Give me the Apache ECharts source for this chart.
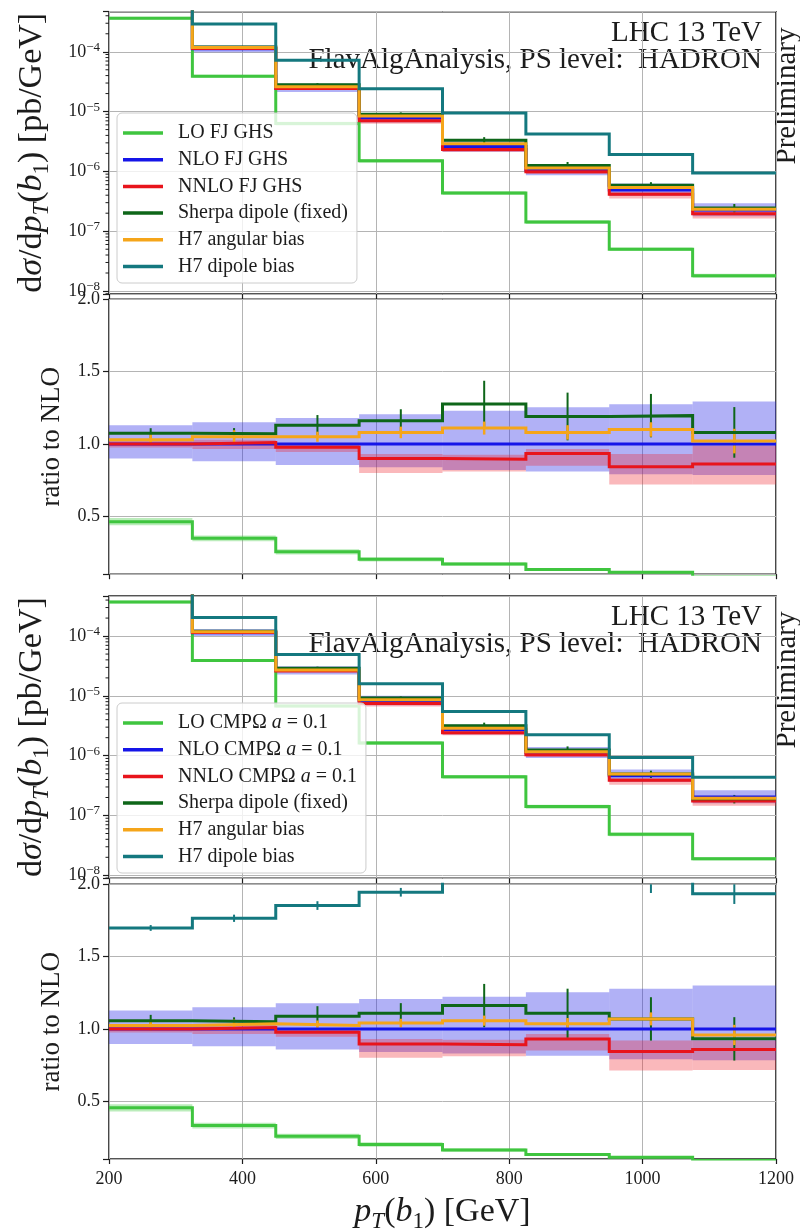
<!DOCTYPE html>
<html>
<head>
<meta charset="utf-8">
<script src="https://cdn.jsdelivr.net/npm/echarts@6/dist/echarts.min.js"></script>
<style>
  html, body { margin: 0; padding: 0; background: #ffffff; }
  #chart { width: 800px; height: 1229px; }
</style>
</head>
<body>
<div id="chart"></div>
<script>
// ---- binning ---------------------------------------------------------------
const binEdges   = [200, 325, 450, 575, 700, 825, 950, 1075, 1200];
const binCentres = [262.5, 387.5, 512.5, 637.5, 762.5, 887.5, 1012.5, 1137.5];
const xTicks     = [200, 400, 600, 800, 1000, 1200];

// ---- FJ GHS: differential cross sections [pb/GeV] --------------------------
const loFJ     = [3.65e-4, 3.9e-5, 6.3e-6, 1.5e-6, 4.35e-7, 1.42e-7, 5.0e-8, 1.8e-8];
const nloFJ    = [7.8e-4, 1.12e-4, 2.49e-5, 7.8e-6, 2.6e-6, 1.06e-6, 4.9e-7, 2.27e-7];
const nnloFJ   = [7.8e-4, 1.13e-4, 2.43e-5, 7.0e-6, 2.32e-6, 9.9e-7, 4.13e-7, 1.96e-7];
const sherpaFJ = [8.4e-4, 1.2e-4, 2.81e-5, 9.05e-6, 3.32e-6, 1.26e-6, 5.86e-7, 2.45e-7];
const h7angFJ  = [8.0e-4, 1.18e-4, 2.61e-5, 8.4e-6, 2.89e-6, 1.14e-6, 5.4e-7, 2.32e-7];
const h7dipFJ  = [2.0e-3, 2.9e-4, 7.2e-5, 2.42e-5, 9.5e-6, 4.2e-6, 1.92e-6, 9.4e-7];

// ---- FJ GHS: ratios to NLO --------------------------------------------------
const loFJr     = [0.463, 0.348, 0.255, 0.203, 0.17, 0.133, 0.113, 0.08];
const nloFJr    = [1, 1, 1, 1, 1, 1, 1, 1];
const nnloFJr   = [1.0, 1.01, 0.977, 0.90, 0.894, 0.935, 0.843, 0.862];
const sherpaFJr = [1.074, 1.07, 1.13, 1.16, 1.277, 1.19, 1.196, 1.08];
const h7angFJr  = [1.03, 1.05, 1.05, 1.08, 1.11, 1.08, 1.10, 1.02];
const h7dipFJr  = [2.56, 2.59, 2.89, 3.1, 3.65, 3.96, 3.92, 4.14];
const sherpaErrFJ = [0.035, 0.04, 0.07, 0.08, 0.16, 0.165, 0.15, 0.175];
const h7angErrFJ  = [0.04, 0.045, 0.035, 0.04, 0.045, 0.05, 0.05, 0.085];
const h7dipErrFJ  = [0.03, 0.04, 0.05, 0.06, 0.08, 0.1, 0.12, 0.15];
const loBandFJ     = [0.025, 0.02, 0.018, 0.015, 0.012, 0.01, 0.008, 0.006];
const nloBandLoFJ  = [0.90, 0.88, 0.855, 0.84, 0.82, 0.81, 0.79, 0.785];
const nloBandHiFJ  = [1.13, 1.15, 1.18, 1.205, 1.23, 1.254, 1.275, 1.293];
const nnloBandLoFJ = [0.975, 0.965, 0.945, 0.80, 0.81, 0.85, 0.72, 0.72];
const nnloBandHiFJ = [1.02, 1.03, 0.995, 0.93, 0.925, 0.965, 0.93, 0.99];

// ---- CMPOmega a = 0.1: differential cross sections [pb/GeV] -----------------
const loCMP     = [3.72e-4, 3.91e-5, 6.8e-6, 1.63e-6, 4.45e-7, 1.41e-7, 4.85e-8, 1.9e-8];
const nloCMP    = [8.2e-4, 1.14e-4, 2.66e-5, 8.3e-6, 2.72e-6, 1.12e-6, 4.6e-7, 2.04e-7];
const nnloCMP   = [8.2e-4, 1.15e-4, 2.6e-5, 7.44e-6, 2.42e-6, 1.04e-6, 3.88e-7, 1.75e-7];
const sherpaCMP = [8.67e-4, 1.2e-4, 2.89e-5, 9.2e-6, 3.16e-6, 1.24e-6, 4.92e-7, 1.9e-7];
const h7angCMP  = [8.4e-4, 1.18e-4, 2.72e-5, 8.63e-6, 2.87e-6, 1.16e-6, 4.92e-7, 1.95e-7];
const h7dipCMP  = [1.39e-3, 2.04e-4, 4.93e-5, 1.59e-5, 5.5e-6, 2.24e-6, 9.3e-7, 4.38e-7];

// ---- CMPOmega a = 0.1: ratios to NLO -----------------------------------------
const loCMPr     = [0.454, 0.331, 0.257, 0.20, 0.163, 0.131, 0.112, 0.09];
const nloCMPr    = [1, 1, 1, 1, 1, 1, 1, 1];
const nnloCMPr   = [1.0, 1.01, 0.977, 0.896, 0.891, 0.93, 0.843, 0.857];
const sherpaCMPr = [1.057, 1.05, 1.087, 1.108, 1.161, 1.108, 1.069, 0.931];
const h7angCMPr  = [1.023, 1.035, 1.023, 1.04, 1.057, 1.035, 1.069, 0.958];
const h7dipCMPr  = [1.698, 1.765, 1.853, 1.945, 2.06, 2.05, 2.04, 1.934];
const sherpaErrCMP = [0.04, 0.03, 0.07, 0.07, 0.15, 0.17, 0.15, 0.15];
const h7angErrCMP  = [0.035, 0.03, 0.035, 0.03, 0.035, 0.04, 0.045, 0.07];
const h7dipErrCMP  = [0.02, 0.025, 0.03, 0.03, 0.04, 0.04, 0.1, 0.07];
const loBandCMP     = [0.025, 0.02, 0.018, 0.015, 0.012, 0.01, 0.008, 0.006];
const nloBandLoCMP  = [0.896, 0.88, 0.857, 0.84, 0.83, 0.815, 0.79, 0.783];
const nloBandHiCMP  = [1.127, 1.15, 1.177, 1.207, 1.223, 1.253, 1.277, 1.30];
const nnloBandLoCMP = [0.975, 0.965, 0.945, 0.80, 0.81, 0.85, 0.712, 0.715];
const nnloBandHiCMP = [1.02, 1.03, 0.995, 0.93, 0.925, 0.965, 0.92, 0.92];

// ---- legend labels ------------------------------------------------------------
const namesFJ  = ['LO FJ GHS', 'NLO FJ GHS', 'NNLO FJ GHS', 'Sherpa dipole (fixed)', 'H7 angular bias', 'H7 dipole bias'];
const namesCMP = ['LO CMPΩ a = 0.1', 'NLO CMPΩ a = 0.1', 'NNLO CMPΩ a = 0.1', 'Sherpa dipole (fixed)', 'H7 angular bias', 'H7 dipole bias'];

// ---- styling -----------------------------------------------------------------
const FONT = 'Liberation Serif';
const INK = '#1c1c1c';
const C = {
  lo: '#3fc53f', nlo: '#1515e8', nnlo: '#e8141c',
  sherpa: '#0e6619', h7ang: '#f5a51a', h7dip: '#14787f'
};
const BAND = {
  lo: 'rgba(60,200,60,0.35)',
  nlo: 'rgba(40,40,230,0.36)',
  nnlo: 'rgba(240,40,50,0.33)'
};
const LOG_MIN = Math.pow(10, -8.05);
const LOG_MAX = Math.pow(10, -3.33);

const GRIDS = [
  { left: 109, width: 667, top: 11.7, height: 282.3 },
  { left: 109, width: 667, top: 299.3, height: 274.9 },
  { left: 109, width: 667, top: 596, height: 282.3 },
  { left: 109, width: 667, top: 884.3, height: 274.7 }
];

// histogram outline: one flat segment per bin, joined by vertical risers
function steps(vals) {
  const pts = [];
  vals.forEach((v, i) => { pts.push([binEdges[i], v]); pts.push([binEdges[i + 1], v]); });
  return pts;
}

function lineSeries(name, vals, color, ax) {
  return {
    type: 'line', name, data: steps(vals), xAxisIndex: ax, yAxisIndex: ax,
    symbol: 'none', showSymbol: false, color, clip: true, silent: true, animation: false,
    lineStyle: { color, width: 3, join: 'miter', cap: 'butt' }
  };
}

function bandSeries(lo, hi, fill, ax) {
  return {
    type: 'custom', xAxisIndex: ax, yAxisIndex: ax, silent: true, animation: false,
    data: lo.map((l, i) => [binEdges[i], binEdges[i + 1], l, hi[i]]),
    encode: { x: [0, 1], y: [2, 3] },
    renderItem(params, api) {
      const p0 = api.coord([api.value(0), api.value(3)]);
      const p1 = api.coord([api.value(1), api.value(2)]);
      const cs = params.coordSys;
      const shape = echarts.graphic.clipRectByRect(
        { x: p0[0], y: p0[1], width: p1[0] - p0[0], height: p1[1] - p0[1] },
        { x: cs.x, y: cs.y, width: cs.width, height: cs.height });
      return shape ? { type: 'rect', shape, style: { fill } } : null;
    }
  };
}

function errSeries(vals, errLo, errHi, color, ax, width) {
  return {
    type: 'custom', xAxisIndex: ax, yAxisIndex: ax, silent: true, animation: false, clip: false,
    data: vals.map((v, i) => [binCentres[i], errLo[i], errHi[i]]),
    encode: { x: 0, y: [1, 2] },
    renderItem(params, api) {
      const cs = params.coordSys;
      const a = api.coord([api.value(0), api.value(1)]);
      const b = api.coord([api.value(0), api.value(2)]);
      const top = cs.y, bot = cs.y + cs.height;
      let y1 = Math.min(a[1], b[1]), y2 = Math.max(a[1], b[1]);
      if (y2 < top || y1 > bot) return null;
      y1 = Math.max(y1, top); y2 = Math.min(y2, bot);
      return { type: 'line', shape: { x1: a[0], y1, x2: a[0], y2 },
               style: { stroke: color, lineWidth: width } };
    }
  };
}

// minor ticks of the logarithmic axes (2..9 x 10^n), drawn outside the frame
const minorTickValues = [];
for (let e = -9; e <= -3; e++) for (let k = 2; k <= 9; k++) minorTickValues.push(k * Math.pow(10, e));
function minorTickSeries(ax) {
  return {
    type: 'custom', xAxisIndex: ax, yAxisIndex: ax, silent: true, animation: false, clip: false,
    data: minorTickValues.map(v => [200, v]),
    encode: { x: 0, y: 1 },
    renderItem(params, api) {
      const cs = params.coordSys;
      const v = api.value(1);
      if (v < LOG_MIN || v > LOG_MAX) return null;
      const p = api.coord([200, v]);
      return { type: 'line', shape: { x1: cs.x - 3.5, y1: p[1], x2: cs.x, y2: p[1] },
               style: { stroke: INK, lineWidth: 1 } };
    }
  };
}

const mul = (a, b) => a.map((v, i) => v * b[i]);
const add = (a, b, s) => a.map((v, i) => v + s * b[i]);

// log panel: absolute values, bands and errors follow the relative sizes of the ratio panel
function logPanel(ax, names, d) {
  const rel = (abs, r, e, s) => abs.map((v, i) => v * (1 + s * e[i] / r[i]));
  return [
    bandSeries(mul(d.nlo, d.nloBandLo), mul(d.nlo, d.nloBandHi), BAND.nlo, ax),
    bandSeries(mul(d.nlo, d.nnloBandLo), mul(d.nlo, d.nnloBandHi), BAND.nnlo, ax),
    bandSeries(rel(d.lo, d.lor, d.loBand, -1), rel(d.lo, d.lor, d.loBand, 1), BAND.lo, ax),
    lineSeries(names[0], d.lo, C.lo, ax),
    lineSeries(names[1], d.nlo, C.nlo, ax),
    lineSeries(names[2], d.nnlo, C.nnlo, ax),
    lineSeries(names[3], d.sherpa, C.sherpa, ax),
    errSeries(d.sherpa, rel(d.sherpa, d.sherpar, d.sherpaErr, -1), rel(d.sherpa, d.sherpar, d.sherpaErr, 1), C.sherpa, ax, 2),
    lineSeries(names[4], d.h7ang, C.h7ang, ax),
    errSeries(d.h7ang, rel(d.h7ang, d.h7angr, d.h7angErr, -1), rel(d.h7ang, d.h7angr, d.h7angErr, 1), C.h7ang, ax, 2.5),
    lineSeries(names[5], d.h7dip, C.h7dip, ax),
    errSeries(d.h7dip, rel(d.h7dip, d.h7dipr, d.h7dipErr, -1), rel(d.h7dip, d.h7dipr, d.h7dipErr, 1), C.h7dip, ax, 2),
    minorTickSeries(ax)
  ];
}

function ratioPanel(ax, names, d) {
  return [
    bandSeries(d.nloBandLo, d.nloBandHi, BAND.nlo, ax),
    bandSeries(d.nnloBandLo, d.nnloBandHi, BAND.nnlo, ax),
    bandSeries(add(d.lor, d.loBand, -1), add(d.lor, d.loBand, 1), BAND.lo, ax),
    lineSeries(names[0], d.lor, C.lo, ax),
    lineSeries(names[1], d.nlor, C.nlo, ax),
    lineSeries(names[2], d.nnlor, C.nnlo, ax),
    lineSeries(names[3], d.sherpar, C.sherpa, ax),
    errSeries(d.sherpar, add(d.sherpar, d.sherpaErr, -1), add(d.sherpar, d.sherpaErr, 1), C.sherpa, ax, 2),
    lineSeries(names[4], d.h7angr, C.h7ang, ax),
    errSeries(d.h7angr, add(d.h7angr, d.h7angErr, -1), add(d.h7angr, d.h7angErr, 1), C.h7ang, ax, 2.5),
    lineSeries(names[5], d.h7dipr, C.h7dip, ax),
    errSeries(d.h7dipr, add(d.h7dipr, d.h7dipErr, -1), add(d.h7dipr, d.h7dipErr, 1), C.h7dip, ax, 2)
  ];
}

const FJ = {
  lo: loFJ, nlo: nloFJ, nnlo: nnloFJ, sherpa: sherpaFJ, h7ang: h7angFJ, h7dip: h7dipFJ,
  lor: loFJr, nlor: nloFJr, nnlor: nnloFJr, sherpar: sherpaFJr, h7angr: h7angFJr, h7dipr: h7dipFJr,
  sherpaErr: sherpaErrFJ, h7angErr: h7angErrFJ, h7dipErr: h7dipErrFJ, loBand: loBandFJ,
  nloBandLo: nloBandLoFJ, nloBandHi: nloBandHiFJ, nnloBandLo: nnloBandLoFJ, nnloBandHi: nnloBandHiFJ
};
const CMP = {
  lo: loCMP, nlo: nloCMP, nnlo: nnloCMP, sherpa: sherpaCMP, h7ang: h7angCMP, h7dip: h7dipCMP,
  lor: loCMPr, nlor: nloCMPr, nnlor: nnloCMPr, sherpar: sherpaCMPr, h7angr: h7angCMPr, h7dipr: h7dipCMPr,
  sherpaErr: sherpaErrCMP, h7angErr: h7angErrCMP, h7dipErr: h7dipErrCMP, loBand: loBandCMP,
  nloBandLo: nloBandLoCMP, nloBandHi: nloBandHiCMP, nnloBandLo: nnloBandLoCMP, nnloBandHi: nnloBandHiCMP
};

// ---- axes ----------------------------------------------------------------------
const tickLabel = { fontFamily: FONT, fontSize: 18, color: INK };
const gridLine = { show: true, lineStyle: { color: '#b4b4b4', width: 1 } };

const mathRich = {
  m: { fontFamily: FONT, fontSize: 34, color: INK, lineHeight: 42 },
  i: { fontFamily: FONT, fontSize: 34, fontStyle: 'italic', color: INK, lineHeight: 42 },
  s: { fontFamily: FONT, fontSize: 23, fontStyle: 'italic', color: INK, lineHeight: 23, verticalAlign: 'bottom' },
  n: { fontFamily: FONT, fontSize: 23, color: INK, lineHeight: 23, verticalAlign: 'bottom' }
};

const xAxes = GRIDS.map((g, i) => ({
  type: 'value', gridIndex: i, min: xTicks[0], max: xTicks[xTicks.length - 1], interval: 200,
  axisLine: { show: false },
  axisTick: { show: true, inside: false, length: 5, lineStyle: { color: INK, width: 1.2 } },
  axisLabel: Object.assign({ show: i === 3, margin: 11, formatter: v => String(v) }, tickLabel),
  splitLine: gridLine,
  name: i === 3 ? '{i|p}{s|T}{m|(}{i|b}{n|1}{m|) [GeV]}' : '',
  nameLocation: 'middle', nameGap: 32,
  nameTextStyle: { rich: mathRich }
}));

function logAxis(i) {
  return {
    type: 'log', logBase: 10, gridIndex: i, min: LOG_MIN, max: LOG_MAX, splitNumber: 5,
    axisLine: { show: false },
    axisTick: { show: true, inside: false, length: 6, lineStyle: { color: INK, width: 1.2 } },
    axisLabel: Object.assign({
      margin: 9,
      formatter(v) {
        const e = Math.log10(v);
        const r = Math.round(e);
        if (Math.abs(e - r) > 1e-6) return '';
        return '10{sup|−' + (-r) + '}';
      },
      rich: {
        sup: { fontFamily: FONT, fontSize: 13, color: INK, lineHeight: 12, verticalAlign: 'top' }
      },
      lineHeight: 22
    }, tickLabel),
    splitLine: gridLine,
    name: '{m|d}{i|σ}{m|/d}{i|p}{s|T}{m|(}{i|b}{n|1}{m|) [pb/GeV]}',
    nameLocation: 'middle', nameRotate: 90, nameGap: 56,
    nameTextStyle: { rich: mathRich }
  };
}

function ratioAxis(i) {
  return {
    type: 'value', gridIndex: i, min: 0.1, max: 2.0, splitNumber: 4, minInterval: 0.5, maxInterval: 0.5,
    axisLine: { show: false },
    axisTick: { show: true, inside: false, length: 6, lineStyle: { color: INK, width: 1.2 } },
    axisLabel: Object.assign({
      margin: 9,
      formatter(v) { return Math.abs(v * 2 - Math.round(v * 2)) < 1e-6 ? v.toFixed(1) : ''; }
    }, tickLabel),
    splitLine: gridLine,
    name: 'ratio to NLO', nameLocation: 'middle', nameRotate: 90, nameGap: 44,
    nameTextStyle: { fontFamily: FONT, fontSize: 27, color: INK }
  };
}

// ---- legends -------------------------------------------------------------------
function legend(top, names) {
  return {
    orient: 'vertical', left: 117, top, data: names, selectedMode: false,
    icon: 'rect', itemWidth: 40, itemHeight: 3.5, itemGap: 6.7,
    padding: [10, 9, 6.5, 6],
    backgroundColor: 'rgba(255,255,255,0.8)', borderColor: '#cccccc', borderWidth: 1, borderRadius: 5,
    formatter: name => '{g| }' + name.replace(' a = ', ' {a|a} = '),
    textStyle: {
      fontFamily: FONT, fontSize: 20, color: INK, lineHeight: 20,
      rich: {
        g: { width: 10, fontSize: 20, lineHeight: 20 },
        a: { fontFamily: FONT, fontSize: 20, fontStyle: 'italic', color: INK, lineHeight: 20 }
      }
    }
  };
}

// ---- annotation text -------------------------------------------------------------
function annotations(yTop) {
  const txt = { fontFamily: FONT, fill: INK, align: 'right', verticalAlign: 'middle' };
  return [
    { type: 'text', x: 762, y: yTop + 21, silent: true,
      style: Object.assign({ text: 'LHC 13 TeV', fontSize: 29 }, txt) },
    { type: 'text', x: 762, y: yTop + 48, silent: true,
      style: Object.assign({ text: 'FlavAlgAnalysis, PS level:  HADRON', fontSize: 29 }, txt) },
    { type: 'text', x: 787, y: yTop + 84, rotation: Math.PI / 2, silent: true,
      style: { text: 'Preliminary', fontFamily: FONT, fontSize: 29, fill: INK, align: 'center', verticalAlign: 'middle' } }
  ];
}

const chart = echarts.init(document.getElementById('chart'), null, { renderer: 'canvas' });
chart.setOption({
  animation: false,
  backgroundColor: '#ffffff',
  grid: GRIDS.map(g => Object.assign({
    show: true, borderColor: INK, borderWidth: 1.6, backgroundColor: 'transparent',
    containLabel: false, outerBoundsMode: 'none'
  }, g)),
  xAxis: xAxes,
  yAxis: [logAxis(0), ratioAxis(1), logAxis(2), ratioAxis(3)],
  legend: [legend(113, namesFJ), legend(703, namesCMP)],
  graphic: annotations(12).concat(annotations(596)),
  series: [].concat(
    logPanel(0, namesFJ, FJ),
    ratioPanel(1, namesFJ, FJ),
    logPanel(2, namesCMP, CMP),
    ratioPanel(3, namesCMP, CMP)
  )
});
</script>
</body>
</html>
